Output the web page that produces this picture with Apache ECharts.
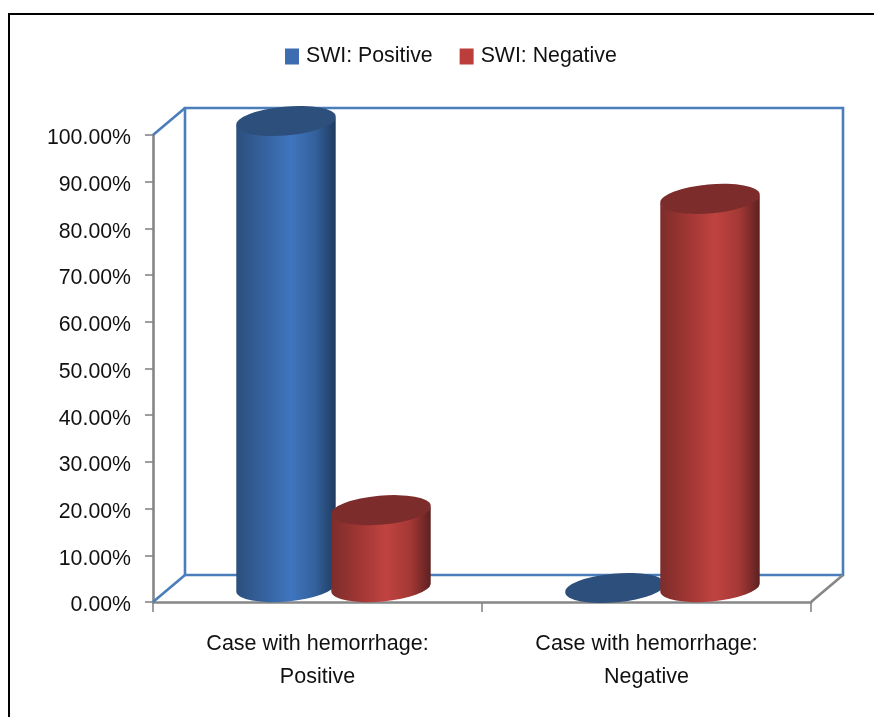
<!DOCTYPE html>
<html><head><meta charset="utf-8">
<style>html,body{margin:0;padding:0;background:#fff}#c{width:874px;height:717px}</style>
<script src="https://cdn.jsdelivr.net/npm/echarts@6/dist/echarts.min.js"></script>
</head><body><div id="c"></div>
<script>
const categories = ['Case with hemorrhage:\nPositive', 'Case with hemorrhage:\nNegative'];
const swiPositive = [100, 0];
const swiNegative = [16.67, 83.33];
const yTicks = {min: 0, max: 100, interval: 10};

const FONT = '"Liberation Sans", Arial, sans-serif';
const DX = 32, DY = 27;           // 3D wall depth
const BASE = 14;                  // bar base sits this far above the front floor edge
const OFFSET = 0.1444;            // share of a band between band centre and bar centre
const HALF_W = 49.7, OFF = 4.1, RX = 49.9, RY = 14, ROT = -5;

const blueGrad = {type:'linear',x:0,y:0,x2:1,y2:0,colorStops:[
  {offset:0,color:'#2b4f7e'},{offset:.25,color:'#34609a'},{offset:.55,color:'#3f75bf'},{offset:.8,color:'#33609a'},{offset:1,color:'#1f3b5f'}]};
const redGrad = {type:'linear',x:0,y:0,x2:1,y2:0,colorStops:[
  {offset:0,color:'#7d2d2b'},{offset:.25,color:'#9c3532'},{offset:.55,color:'#c04340'},{offset:.8,color:'#a33835'},{offset:1,color:'#5c2120'}]};

function cylinder(sign, grad, topColor) {
  return function (params, api) {
    const band = api.size([1, 0])[0];
    const p = api.coord([api.value(0), api.value(1)]);
    const base = api.coord([api.value(0), 0]);
    const cx = p[0] + DX / 2 + sign * OFFSET * band;
    const ct = p[1] - BASE, cb = base[1] - BASE;
    const l = cx - HALF_W, r = cx + HALF_W;
    const arc = `A ${RX} ${RY} ${ROT}`;
    const body = `M ${l} ${ct + OFF} L ${l} ${cb + OFF} ${arc} 0 0 ${r} ${cb - OFF} L ${r} ${ct - OFF} ${arc} 0 1 ${l} ${ct + OFF} Z`;
    const top = `M ${l} ${ct + OFF} ${arc} 1 1 ${r} ${ct - OFF} ${arc} 1 1 ${l} ${ct + OFF} Z`;
    return {type:'group', children:[
      {type:'path', shape:{pathData:body}, style:{fill:grad, stroke:null}},
      {type:'path', shape:{pathData:top}, style:{fill:topColor, stroke:null}}
    ]};
  };
}

function walls(params) {
  const g = params.coordSys, x0 = g.x, x1 = g.x + g.width, y0 = g.y, y1 = g.y + g.height;
  const blue = {stroke:'#4a7ebb', lineWidth:2.6, fill:null};
  const gray = {stroke:'#868686', lineWidth:2.6, fill:null};
  const seg = (a,b,c,d,s) => ({type:'line', shape:{x1:a,y1:b,x2:c,y2:d}, style:s});
  return {type:'group', children:[
    {type:'rect', shape:{x:x0+DX, y:y0-DY, width:g.width, height:g.height}, style:blue},
    seg(x0,y0,x0+DX,y0-DY,blue),
    seg(x0,y1,x0+DX,y1-DY,blue),
    seg(x1,y1,x1+DX,y1-DY,gray)
  ]};
}

const chart = echarts.init(document.getElementById('c'), null, {renderer:'canvas'});
chart.setOption({
  animation:false,
  backgroundColor:'#fff',
  textStyle:{fontFamily:FONT},
  legend:{
    left:280, top:41, icon:'rect', itemWidth:14, itemHeight:16, itemGap:27,
    data:['SWI: Positive','SWI: Negative'],
    selectedMode:false,
    textStyle:{fontFamily:FONT, fontSize:21.3, color:'#111', padding:[0,0,0,2]}
  },
  grid:{left:153, top:135, width:658, height:467, containLabel:false},
  xAxis:{
    type:'category', data:categories,
    axisLine:{onZero:false, lineStyle:{color:'#868686', width:2.6}},
    axisTick:{show:true, length:10, alignWithLabel:false, lineStyle:{color:'#868686', width:1.6}},
    axisLabel:{color:'#111', fontFamily:FONT, fontSize:21.5, lineHeight:33, margin:26, interval:0},
    splitLine:{show:false}
  },
  yAxis:{
    type:'value', min:yTicks.min, max:yTicks.max, interval:yTicks.interval,
    axisLine:{show:true, lineStyle:{color:'#868686', width:2.6}},
    axisTick:{show:true, length:8, lineStyle:{color:'#868686', width:1.6}},
    axisLabel:{color:'#111', fontFamily:FONT, fontSize:21.3, margin:22, verticalAlign:'top', lineHeight:7, formatter:v => v.toFixed(2) + '%'},
    splitLine:{show:false}
  },
  series:[
    {type:'custom', name:'walls', z:1, silent:true, clip:false, renderItem:walls, data:[[0,0]], encode:{x:0,y:1}},
    {type:'custom', name:'SWI: Positive', z:2, clip:false, itemStyle:{color:'#3d6cb0'},
     renderItem:cylinder(-1, blueGrad, '#2d4f7b'),
     data:swiPositive.map((v,i)=>[i,v]), encode:{x:0,y:1}},
    {type:'custom', name:'SWI: Negative', z:3, clip:false, itemStyle:{color:'#bb3e3b'},
     renderItem:cylinder(1, redGrad, '#7c2c2a'),
     data:swiNegative.map((v,i)=>[i,v]), encode:{x:0,y:1}}
  ],
  graphic:[
    {type:'line', shape:{x1:9,y1:14,x2:9,y2:717}, style:{stroke:'#000',lineWidth:2}, z:10},
    {type:'line', shape:{x1:8,y1:14,x2:874,y2:14}, style:{stroke:'#000',lineWidth:2}, z:10}
  ]
});
</script></body></html>
